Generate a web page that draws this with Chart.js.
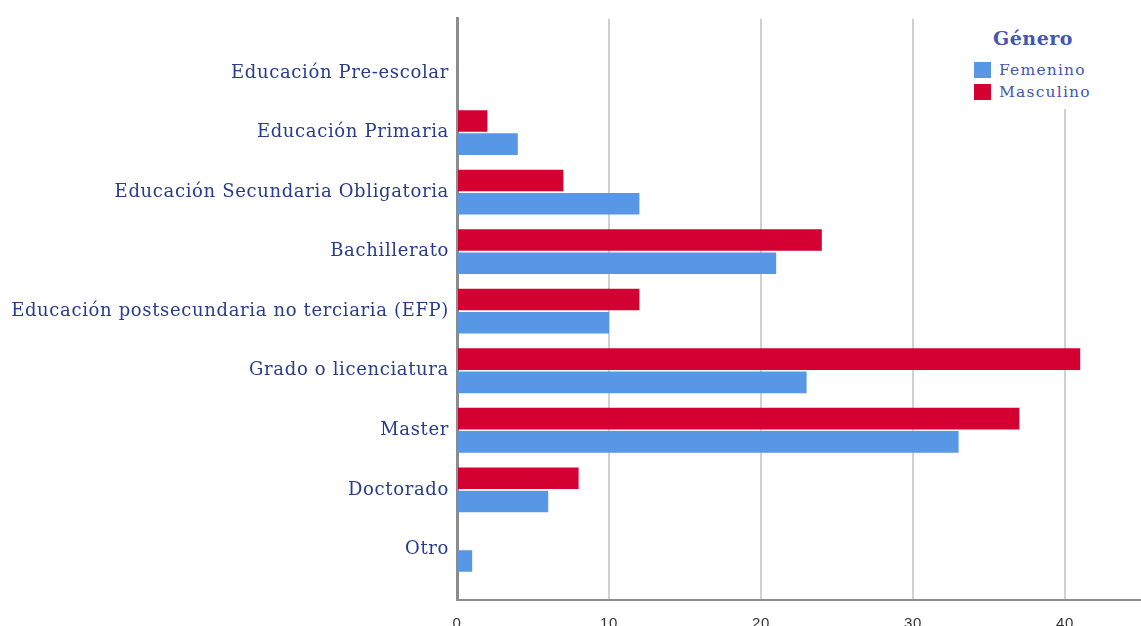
<!DOCTYPE html>
<html>
<head>
<meta charset="utf-8">
<script src="https://cdn.jsdelivr.net/npm/chart.js@4.4.1/dist/chart.umd.min.js"></script>
<style>
  html, body { margin: 0; padding: 0; background: #fff; }
  #wrap { position: relative; width: 1141px; height: 626px; }
  #legend {
    position: absolute; left: 962px; top: 16px; width: 140px; height: 93px;
    background: #fff; font-family: "DejaVu Serif", serif; color: #4257b2;
  }
  #legend .ttl { width: 118px; padding-left: 12px; text-align: center; font-weight: bold; font-size: 19px; letter-spacing: 0.5px; margin: 11px 0 10px 0; }
  #legend .item { display: flex; align-items: center; font-size: 15.5px; letter-spacing: 1.2px; height: 22px; margin-left: 12px; }
  #legend .sw { width: 17px; height: 16px; margin-right: 8px; }
</style>
</head>
<body>
<div id="wrap">
  <canvas id="c" width="1141" height="626"></canvas>
  <div id="legend"></div>
</div>
<script>
// Nivel de estudios por género — horizontal grouped bars
var categories = [
  'Educación Pre-escolar',
  'Educación Primaria',
  'Educación Secundaria Obligatoria',
  'Bachillerato',
  'Educación postsecundaria no terciaria (EFP)',
  'Grado o licenciatura',
  'Master',
  'Doctorado',
  'Otro'
];
var masculino = [0, 2, 7, 24, 12, 41, 37, 8, 0];
var femenino  = [0, 4, 12, 21, 10, 23, 33, 6, 1];
var xTicks = [0, 10, 20, 30, 40];

var RED = '#d50032';
var BLUE = '#5896e6';
var NAVY = '#283c8c';

function pts(arr) {
  return arr.map(function (v, i) { return { x: v, y: i }; });
}

// legend (HTML, sits over the top-right of the plot like the original)
var leg = document.getElementById('legend');
leg.innerHTML = '<div class="ttl">Género</div>'
  + '<div class="item"><span class="sw" style="background:' + BLUE + '"></span>Femenino</div>'
  + '<div class="item"><span class="sw" style="background:' + RED + '"></span>Masculino</div>';

// the original labels are a bit letter-spaced
var spacing = {
  id: 'spacing',
  beforeDraw: function (chart) { chart.ctx.letterSpacing = '0.65px'; },
  afterDraw: function (chart) { chart.ctx.letterSpacing = '0px'; }
};

new Chart(document.getElementById('c'), {
  type: 'bar',
  plugins: [spacing],
  data: {
    datasets: [
      { label: 'Masculino', data: pts(masculino), backgroundColor: RED },
      { label: 'Femenino', data: pts(femenino), backgroundColor: BLUE }
    ]
  },
  options: {
    indexAxis: 'y',
    responsive: false,
    animation: false,
    categoryPercentage: 0.78,
    barPercentage: 0.93,
    layout: { padding: { top: 15, right: 0, left: 0, bottom: 0 } },
    scales: {
      x: {
        type: 'linear', min: 0, max: 45,
        afterBuildTicks: function (s) { s.ticks = xTicks.map(function (v) { return { value: v }; }); },
        afterFit: function (s) { s.height = 26; },
        grid: { color: '#d0d0d0', lineWidth: 2, drawTicks: false },
        border: { display: true, color: '#8c8c8c', width: 2 },
        ticks: { color: '#333', padding: 15, font: { family: 'Liberation Sans', size: 15 } }
      },
      y: {
        type: 'linear', reverse: true, min: -0.91, max: 8.85, offset: false,
        afterBuildTicks: function (s) { s.ticks = categories.map(function (c, i) { return { value: i }; }); },
        afterFit: function (s) { s.width = 457; },
        grid: { display: false, drawTicks: false, offset: false },
        border: { display: true, color: '#8c8c8c', width: 3 },
        ticks: {
          color: NAVY, padding: 8,
          font: { family: 'DejaVu Serif', size: 18 },
          callback: function (v) { return categories[v]; }
        }
      }
    },
    plugins: {
      legend: { display: false },
      tooltip: { enabled: false }
    }
  }
});
</script>
</body>
</html>
